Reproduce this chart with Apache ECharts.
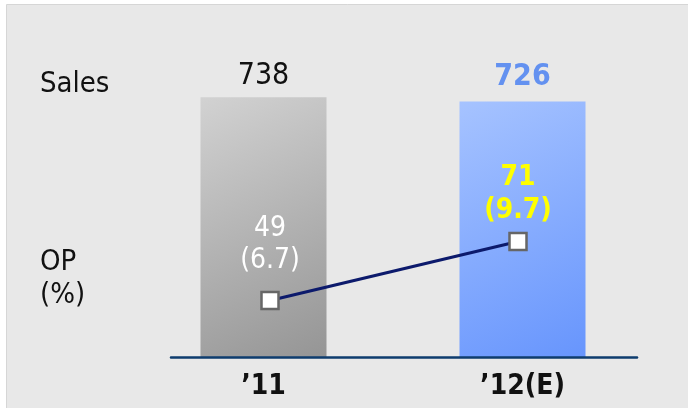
<!DOCTYPE html>
<html><head><meta charset="utf-8">
<script src="https://cdn.jsdelivr.net/npm/echarts@6/dist/echarts.min.js"></script>
<style>html,body{margin:0;padding:0;background:#fff}#c{width:688px;height:408px}</style>
</head><body><div id="c"></div>
<script>
const categories = ["’11", "’12(E)"];
const sales = [738, 726];
const op = [49, 71];
const opRatio = [6.7, 9.7];
const unitText = "(Unit: KRW bn, %)";

const FONT = "'DejaVu Sans Condensed', 'Noto Sans', sans-serif";
const G = echarts.graphic.LinearGradient;
const barStyles = [
  {color: new G(0,0,1,1,[{offset:0,color:'#d2d2d2'},{offset:1,color:'#959595'}])},
  {color: new G(0,0,1,1,[{offset:0,color:'#a6c3ff'},{offset:1,color:'#6795fd'}])}
];
const salesLabels = [
  {color:'#111', fontWeight:'normal', fontSize:30, distance:6},
  {color:'#6391f0', fontWeight:'bold', fontSize:30, distance:9}
];
const opLabels = [
  {color:'#ffffff', fontWeight:'normal', fontSize:28, distance:14, lineHeight:32},
  {color:'#ffff00', fontWeight:'bold', fontSize:28, distance:4, lineHeight:33}
];

const chart = echarts.init(document.getElementById('c'), null, {renderer:'canvas'});
chart.setOption({
  backgroundColor:'#ffffff',
  animation:false,
  textStyle:{fontFamily:FONT},
  graphic:[
    {type:'rect', z:-10, shape:{x:6.5,y:4.5,width:700,height:420}, style:{fill:'#e8e8e8', stroke:'#d6d6d6', lineWidth:1}},
    {type:'text', right:2, top:-23, style:{text:unitText, font:'24px '+FONT, fill:'#555'}},
    {type:'text', left:40, top:70, style:{text:'Sales', font:'29px '+FONT, fill:'#111'}},
    {type:'text', left:40, top:246, style:{text:'OP\n(%)', font:'29px '+FONT, fill:'#111', lineHeight:33}}
  ],
  grid:[
    {left:134, right:36, top:5, bottom:51},
    {left:171, right:51, top:5, bottom:51},
    {left:146, right:46, top:5, bottom:51}
  ],
  xAxis:[
    {type:'category', gridIndex:0, data:categories, axisLine:{show:false}, axisTick:{show:false},
     axisLabel:{color:'#111', fontWeight:'bold', fontSize:28, margin:16, fontFamily:FONT}},
    {type:'category', gridIndex:1, data:categories, z:5, axisLine:{show:true, lineStyle:{color:'#0e3c6e', width:2.5}},
     axisTick:{show:false}, axisLabel:{show:false}},
    {type:'category', gridIndex:2, data:categories, show:false}
  ],
  yAxis:[
    {type:'value', gridIndex:0, min:0, max:1000, show:false},
    {type:'value', gridIndex:1, min:0, max:1000, show:false},
    {type:'value', gridIndex:2, min:28, max:159, show:false}
  ],
  series:[
    {type:'bar', xAxisIndex:0, yAxisIndex:0, barWidth:126,
     data: sales.map((v,i)=>({value:v, itemStyle:barStyles[i],
       label:Object.assign({show:true, position:'top', fontFamily:FONT}, salesLabels[i])}))},
    {type:'line', xAxisIndex:2, yAxisIndex:2, symbol:'rect', symbolSize:17,
     lineStyle:{color:'#0c1a6c', width:3},
     itemStyle:{color:'#ffffff', borderColor:'#666666', borderWidth:2.5},
     data: op.map((v,i)=>({value:v,
       label:Object.assign({show:true, position:'top', fontFamily:FONT,
         formatter: v + '\n(' + opRatio[i].toFixed(1) + ')'}, opLabels[i])}))}
  ]
});
</script></body></html>
